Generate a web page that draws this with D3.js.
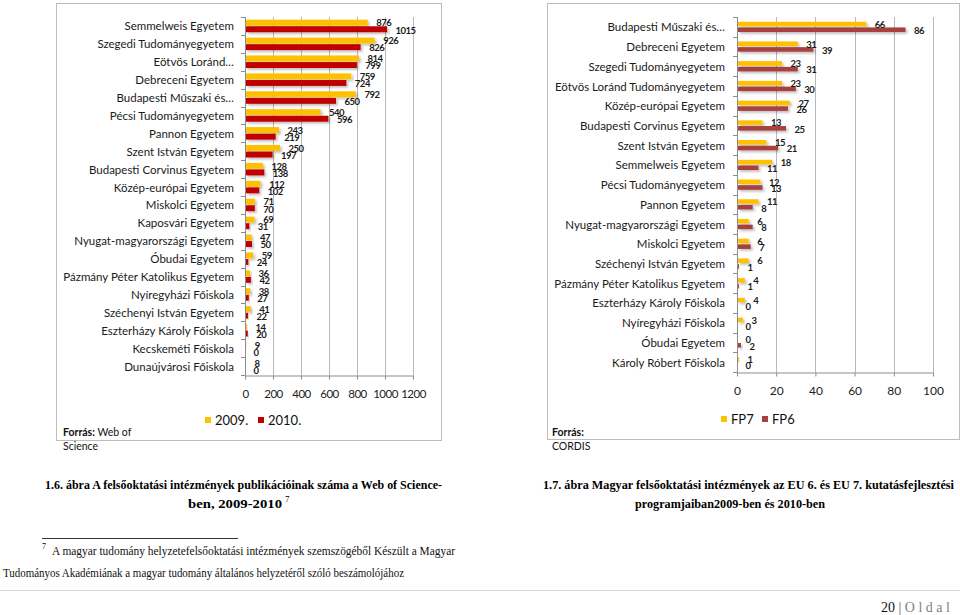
<!DOCTYPE html>
<html><head><meta charset="utf-8">
<script src="https://cdn.jsdelivr.net/npm/d3@7"></script>
<style>
html,body{margin:0;padding:0;background:#fff;}
svg{display:block;}
.sans{font-family:Lato,"Open Sans",sans-serif;}
.serif{font-family:"Liberation Serif","DejaVu Serif",serif;}
</style></head>
<body>
<svg id="c" width="960" height="615"></svg>
<script>
// ---- Left chart data (Web of Science publications) ----
const leftCategories = ["Semmelweis Egyetem","Szegedi Tudományegyetem","Eötvös Loránd…","Debreceni Egyetem","Budapesti Műszaki és…","Pécsi Tudományegyetem","Pannon Egyetem","Szent István Egyetem","Budapesti Corvinus Egyetem","Közép-európai Egyetem","Miskolci Egyetem","Kaposvári Egyetem","Nyugat-magyarországi Egyetem","Óbudai Egyetem","Pázmány Péter Katolikus Egyetem","Nyíregyházi Főiskola","Széchenyi István Egyetem","Eszterházy Károly Főiskola","Kecskeméti Főiskola","Dunaújvárosi Főiskola"];
const pubs2009 = [876,926,814,759,792,540,243,250,128,112,71,69,47,59,36,38,41,14,9,8];
const pubs2010 = [1015,826,799,724,650,596,219,197,138,102,70,31,50,24,42,27,22,20,0,0];
const leftTicks = [0,200,400,600,800,1000,1200];
const leftSeries = ["2009.","2010."];

// ---- Right chart data (EU FP6/FP7 participation) ----
const rightCategories = ["Budapesti Műszaki és…","Debreceni Egyetem","Szegedi Tudományegyetem","Eötvös Loránd Tudományegyetem","Közép-európai Egyetem","Budapesti Corvinus Egyetem","Szent István Egyetem","Semmelweis Egyetem","Pécsi Tudományegyetem","Pannon Egyetem","Nyugat-magyarországi Egyetem","Miskolci Egyetem","Széchenyi István Egyetem","Pázmány Péter Katolikus Egyetem","Eszterházy Károly Főiskola","Nyíregyházi Főiskola","Óbudai Egyetem","Károly Róbert Főiskola"];
const fp7 = [66,31,23,23,27,13,15,18,12,11,6,6,6,4,4,3,0,1];
const fp6 = [86,39,31,30,26,25,21,11,13,8,8,7,1,1,0,0,2,0];
const rightTicks = [0,20,40,60,80,100];
const rightSeries = ["FP7","FP6"];

const svg = d3.select("#c");
svg.append("rect").attr("width",960).attr("height",615).attr("fill","#fff");

const defs = svg.append("defs");
const f = defs.append("filter").attr("id","sh").attr("x","-20%").attr("y","-50%").attr("width","160%").attr("height","300%");
f.append("feDropShadow").attr("dx",1.8).attr("dy",1.8).attr("stdDeviation",0.9)
 .attr("flood-color","#000").attr("flood-opacity",0.25);

function chart(o){
  const g = svg.append("g");
  // frame
  g.append("rect").attr("x",o.frame[0]+0.5).attr("y",o.frame[1]+0.5)
    .attr("width",o.frame[2]).attr("height",o.frame[3])
    .attr("fill","none").attr("stroke","#bdbdbd").attr("stroke-width",1);

  const x = d3.scaleLinear().domain([o.ticks[0],o.ticks[o.ticks.length-1]]).range([o.x0,o.x1]);
  const y = d3.scaleBand().domain(o.cats).range([o.y0,o.y1]).paddingInner(o.pin).paddingOuter(o.pout);
  const ys = d3.scaleBand().domain([0,1]).range([0,y.bandwidth()]).paddingInner(o.sub);

  // gridlines
  g.append("g").selectAll("line").data(o.ticks.slice(1)).join("line")
    .attr("x1",d=>Math.round(x(d))+0.5).attr("x2",d=>Math.round(x(d))+0.5)
    .attr("y1",o.y0).attr("y2",o.y1).attr("stroke","#b8b8b8").attr("stroke-width",1);

  // bottom axis
  const xa = g.append("g").attr("transform",`translate(0,${Math.round(o.y1)+0.5})`)
    .call(d3.axisBottom(x).tickValues(o.ticks).tickFormat(d3.format("d")).tickSize(4).tickSizeOuter(0).tickPadding(o.tickPad));
  xa.select(".domain").attr("stroke","#8c8c8c");
  xa.selectAll(".tick line").attr("stroke","#8c8c8c");
  xa.selectAll(".tick text").attr("font-family","Lato, 'Open Sans', sans-serif")
    .attr("font-size",o.tickFont).attr("letter-spacing",o.tickLS).attr("fill","#222");

  // left axis with ticks at category boundaries
  const step = y.step();
  const bounds = d3.range(o.cats.length+1).map(i=>o.y0+i*step);
  g.append("line").attr("x1",Math.round(o.x0)+0.5).attr("x2",Math.round(o.x0)+0.5)
    .attr("y1",o.y0).attr("y2",o.y1).attr("stroke","#8c8c8c");
  g.append("g").selectAll("line").data(bounds).join("line")
    .attr("x1",Math.round(o.x0)-4).attr("x2",Math.round(o.x0)+0.5)
    .attr("y1",d=>Math.round(d)+0.5).attr("y2",d=>Math.round(d)+0.5).attr("stroke","#8c8c8c");

  // category labels
  g.append("g").selectAll("text").data(o.cats).join("text")
    .attr("class","sans").attr("font-size",o.catFont).attr("fill","#1a1a1a")
    .attr("text-anchor","end").attr("dominant-baseline","central")
    .attr("x",o.labelX).attr("y",d=>y(d)+y.bandwidth()/2)
    .text(d=>d);

  // bars
  const series = [o.s1,o.s2];
  series.forEach((vals,si)=>{
    g.append("g").selectAll("rect").data(vals).join("rect")
      .attr("x",o.x0+1).attr("y",(d,i)=>y(o.cats[i])+ys(si))
      .attr("width",d=>Math.max(0,x(d)-o.x0-1)).attr("height",ys.bandwidth())
      .attr("fill",o.colors[si]).attr("filter","url(#sh)");
  });
  series.forEach((vals,si)=>{
    g.append("g").selectAll("text").data(vals).join("text")
      .attr("class","sans").attr("font-size",o.valFont).attr("letter-spacing",-0.5)
      .attr("font-weight","bold").attr("fill","#1a1a1a")
      .attr("dominant-baseline","central")
      .attr("x",d=>x(d)+o.valOff).attr("y",(d,i)=>y(o.cats[i])+ys(si)+ys.bandwidth()/2+(si?0.8:0.3))
      .text(d=>d);
  });

  // legend
  const lg = g.append("g");
  o.legend.forEach((l,i)=>{
    lg.append("rect").attr("x",l.x).attr("y",o.legY-3).attr("width",6).attr("height",6).attr("fill",o.colors[i]);
    lg.append("text").attr("class","sans").attr("font-size",13).attr("fill","#111")
      .attr("x",l.x+10).attr("y",o.legY).attr("dominant-baseline","central").text(l.t);
  });
}

chart({frame:[56,3,385,437], cats:leftCategories, s1:pubs2009, s2:pubs2010, ticks:leftTicks,
  x0:245, x1:413, y0:17, y1:375, pin:0.3, pout:0.15, sub:0.1,
  colors:["#FFC000","#C00000"], labelX:234, catFont:11.5, valFont:9.5, valOff:8.5, tickFont:11.5, tickLS:-0.5, tickPad:10,
  legY:420, legend:[{x:205,t:leftSeries[0]},{x:258,t:leftSeries[1]}]});

chart({frame:[547,3,412,436], cats:rightCategories, s1:fp7, s2:fp6, ticks:rightTicks,
  x0:737, x1:933, y0:17, y1:372, pin:0.48, pout:0.24, sub:0.2,
  colors:["#FFC000","#A8403E"], labelX:725, catFont:11.5, valFont:9.5, valOff:8.5, tickFont:12, tickLS:0, tickPad:10,
  legY:419, legend:[{x:721,t:rightSeries[0]},{x:762,t:rightSeries[1]}]});

// Sources
function src(x, lines){
  lines.forEach((ln,i)=>{
    const t = svg.append("text").attr("class","sans").attr("font-size",10.5).attr("fill","#111")
      .attr("x",x).attr("y",436+i*13.5);
    ln.forEach(p=>t.append("tspan").attr("font-weight",p.b?"bold":"normal").text(p.t));
  });
}
src(63,[[{t:"Forrás:",b:1},{t:" Web of"}],[{t:"Science"}]]);
src(552,[[{t:"Forrás:",b:1}],[{t:"CORDIS"}]]);

// Captions
function cap(x,y,txt,len){
  return svg.append("text").attr("class","serif").attr("font-size",13).attr("font-weight","bold")
    .attr("fill","#000").attr("x",x).attr("y",y).attr("textLength",len).attr("lengthAdjust","spacingAndGlyphs").text(txt);
}
cap(45,489,"1.6. ábra A felsőoktatási intézmények publikációinak száma a Web of Science-",397);
cap(188,508,"ben, 2009-2010",94);
svg.append("text").attr("class","serif").attr("font-size",9).attr("x",285).attr("y",502).text("7");
cap(543,489,"1.7. ábra Magyar felsőoktatási intézmények az EU 6. és EU 7. kutatásfejlesztési",411);
cap(635,508,"programjaiban2009-ben és 2010-ben",190);

// Footnote
svg.append("line").attr("x1",42).attr("x2",238).attr("y1",538.5).attr("y2",538.5).attr("stroke","#333").attr("stroke-width",1);
svg.append("text").attr("class","serif").attr("font-size",8).attr("x",42).attr("y",549).text("7");
svg.append("text").attr("class","serif").attr("font-size",11.5).attr("fill","#111")
  .attr("x",52).attr("y",555).attr("textLength",403).attr("lengthAdjust","spacingAndGlyphs")
  .text("A magyar tudomány helyzetefelsőoktatási intézmények szemszögéből Készült a Magyar");
svg.append("text").attr("class","serif").attr("font-size",11.5).attr("fill","#111")
  .attr("x",3).attr("y",577).attr("textLength",401).attr("lengthAdjust","spacingAndGlyphs")
  .text("Tudományos Akadémiának a magyar tudomány általános helyzetéről szóló beszámolójához");

// page footer
svg.append("line").attr("x1",0).attr("x2",960).attr("y1",590.5).attr("y2",590.5).attr("stroke","#d9d9d9");
const pg = svg.append("text").attr("class","serif").attr("font-size",14).attr("x",881).attr("y",612);
pg.append("tspan").attr("fill","#111").text("20");
pg.append("tspan").attr("fill","#555").text(" | ");
pg.append("tspan").attr("fill","#7f7f7f").attr("letter-spacing",3.5).text("Oldal");
</script>
</body></html>
